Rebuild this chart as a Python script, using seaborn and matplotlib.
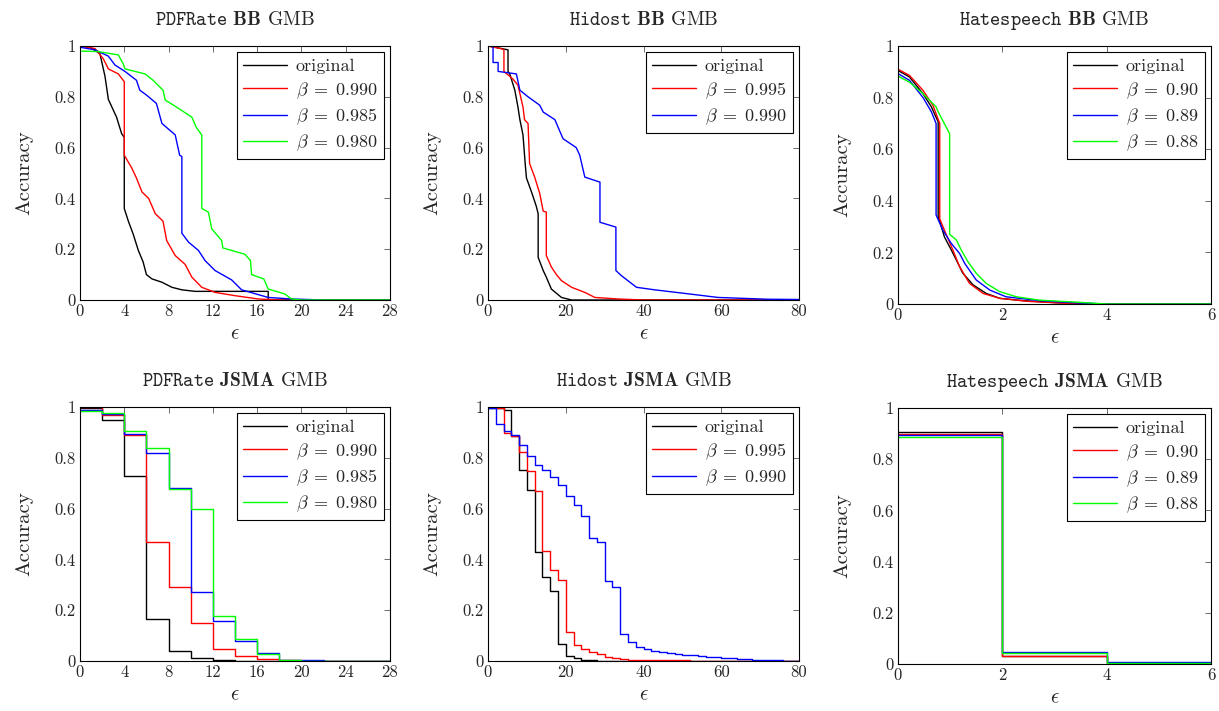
import matplotlib
matplotlib.use("Agg")
import matplotlib.pyplot as plt
import seaborn as sns

# ---- PDFRate BB ----
pdf_bb_orig_x = [0, 0.9, 1.8, 2.26, 2.56, 3.3, 3.76, 4.0, 4.0, 4.37, 4.8, 5.27, 5.7, 6.0, 6.5, 7.4, 8.3, 9.2, 10.4, 17.0, 17.0, 28]
pdf_bb_orig_y = [1.0, 0.995, 0.97, 0.88, 0.79, 0.72, 0.655, 0.64, 0.36, 0.31, 0.26, 0.195, 0.15, 0.10, 0.083, 0.07, 0.05, 0.04, 0.034, 0.034, 0.0, 0.0]
pdf_bb_990_x = [0, 1.35, 2.1, 2.56, 3.46, 3.9, 4.0, 4.0, 4.67, 5.1, 5.6, 6.2, 6.8, 7.5, 7.83, 8.6, 9.5, 10.1, 11.0, 12.2, 14.0, 16.1, 18.0, 28]
pdf_bb_990_y = [1.0, 0.99, 0.95, 0.91, 0.89, 0.865, 0.86, 0.57, 0.52, 0.48, 0.425, 0.40, 0.34, 0.31, 0.234, 0.175, 0.14, 0.09, 0.05, 0.03, 0.017, 0.004, 0.0, 0.0]
pdf_bb_985_x = [0, 1.35, 2.56, 3.16, 4.06, 5.1, 5.4, 6.0, 6.9, 7.4, 8.6, 9.0, 9.2, 9.2, 9.8, 10.7, 11.3, 12.2, 13.7, 14.6, 17.0, 19.1, 22.0, 28]
pdf_bb_985_y = [0.995, 0.985, 0.96, 0.925, 0.90, 0.865, 0.826, 0.807, 0.774, 0.695, 0.65, 0.57, 0.565, 0.263, 0.228, 0.195, 0.155, 0.116, 0.079, 0.04, 0.01, 0.004, 0.0, 0.0]
pdf_bb_980_x = [0, 1.65, 3.46, 3.9, 4.06, 5.87, 6.6, 7.5, 7.7, 8.7, 10.1, 10.5, 11.0, 11.0, 11.6, 11.9, 12.8, 12.9, 14.9, 15.4, 15.5, 16.6, 17.0, 18.5, 19.1, 20.0, 28]
pdf_bb_980_y = [0.98, 0.978, 0.965, 0.93, 0.91, 0.89, 0.865, 0.826, 0.787, 0.76, 0.72, 0.68, 0.649, 0.36, 0.346, 0.28, 0.234, 0.205, 0.18, 0.155, 0.10, 0.083, 0.043, 0.024, 0.004, 0.0, 0.0]

# ---- Hidost BB ----
hid_bb_orig_x = [0, 5.15, 5.15, 5.6, 6.9, 7.7, 8.2, 9.0, 9.6, 9.9, 11.2, 12.4, 12.9, 12.9, 14.2, 15.0, 16.3, 18.9, 21.5, 80]
hid_bb_orig_y = [1.0, 0.985, 0.90, 0.89, 0.826, 0.76, 0.71, 0.65, 0.53, 0.48, 0.425, 0.37, 0.34, 0.168, 0.116, 0.09, 0.043, 0.01, 0.0, 0.0]
hid_bb_995_x = [0, 3.3, 4.1, 4.1, 6.4, 7.7, 9.0, 9.4, 10.3, 10.7, 12.0, 13.3, 14.2, 15.0, 15.0, 16.3, 17.6, 18.9, 21.5, 24.9, 27.5, 33.5, 40, 80]
hid_bb_995_y = [1.0, 0.99, 0.985, 0.90, 0.87, 0.846, 0.76, 0.71, 0.695, 0.537, 0.484, 0.42, 0.35, 0.346, 0.175, 0.13, 0.10, 0.076, 0.05, 0.03, 0.01, 0.004, 0.0, 0.0]
hid_bb_990_x = [0, 1.3, 1.3, 2.6, 2.6, 7.3, 8.2, 10.3, 13.3, 14.2, 17.2, 19.3, 22.7, 23.6, 24.9, 28.8, 28.8, 32.9, 32.9, 34.3, 38.2, 42.9, 50.6, 59.2, 72, 80]
hid_bb_990_y = [1.0, 1.0, 0.935, 0.935, 0.9, 0.89, 0.826, 0.80, 0.767, 0.74, 0.71, 0.635, 0.60, 0.57, 0.484, 0.464, 0.306, 0.287, 0.116, 0.096, 0.05, 0.04, 0.026, 0.01, 0.003, 0.002]

# ---- Hatespeech BB ----
hate_bb_orig_x = [0, 0.22, 0.48, 0.64, 0.77, 0.77, 0.8, 0.89, 1.02, 1.12, 1.24, 1.44, 1.69, 1.95, 2.4, 3.03, 4.0, 6.0]
hate_bb_orig_y = [0.905, 0.88, 0.815, 0.764, 0.706, 0.34, 0.32, 0.26, 0.21, 0.17, 0.12, 0.074, 0.041, 0.022, 0.013, 0.005, 0.0, 0.0]
hate_bb_90_x = [0, 0.22, 0.48, 0.67, 0.8, 0.8, 0.89, 1.05, 1.18, 1.37, 1.63, 1.95, 2.5, 3.5, 6.0]
hate_bb_90_y = [0.91, 0.886, 0.828, 0.77, 0.70, 0.33, 0.286, 0.21, 0.145, 0.08, 0.041, 0.022, 0.01, 0.0, 0.0]
hate_bb_89_x = [0, 0.22, 0.48, 0.64, 0.73, 0.73, 0.86, 1.02, 1.18, 1.28, 1.5, 1.76, 2.07, 2.71, 3.35, 4.0, 6.0]
hate_bb_89_y = [0.893, 0.867, 0.80, 0.745, 0.70, 0.345, 0.286, 0.235, 0.196, 0.157, 0.093, 0.054, 0.028, 0.013, 0.005, 0.0, 0.0]
hate_bb_88_x = [0, 0.22, 0.48, 0.73, 0.77, 0.99, 0.99, 1.12, 1.21, 1.34, 1.5, 1.69, 1.95, 2.27, 2.71, 3.35, 4.0, 6.0]
hate_bb_88_y = [0.883, 0.86, 0.815, 0.764, 0.745, 0.66, 0.27, 0.248, 0.21, 0.164, 0.119, 0.08, 0.048, 0.028, 0.015, 0.008, 0.0, 0.0]

# ---- PDFRate JSMA ----
pdf_js_eps = [0, 2, 4, 6, 8, 10, 12, 14, 16, 18, 20, 22, 24, 26, 28]
pdf_js_orig = [0.995, 0.95, 0.73, 0.165, 0.04, 0.01, 0.003, 0, 0, 0, 0, 0, 0, 0, 0]
pdf_js_990 = [1.0, 0.967, 0.89, 0.47, 0.293, 0.148, 0.046, 0.02, 0.008, 0.002, 0, 0, 0, 0, 0]
pdf_js_985 = [0.99, 0.972, 0.893, 0.818, 0.683, 0.27, 0.159, 0.079, 0.03, 0.004, 0.002, 0, 0, 0, 0]
pdf_js_980 = [0.985, 0.975, 0.904, 0.838, 0.678, 0.60, 0.179, 0.087, 0.026, 0.002, 0, 0, 0, 0, 0]

# ---- Hidost JSMA ----
hid_js_eps = [0, 2, 4, 6, 8, 10, 12, 14, 16, 18, 20, 22, 24, 26, 28, 30, 32, 34, 36, 38, 40,
              42, 44, 46, 48, 50, 52, 54, 56, 58, 60, 62, 64, 66, 68, 70, 72, 74, 76, 78, 80]
hid_js_orig = [0.996, 0.996, 0.987, 0.884, 0.753, 0.674, 0.43, 0.332, 0.276, 0.066, 0.021, 0.01, 0.005, 0.002,
               0, 0, 0, 0, 0, 0, 0, 0, 0, 0, 0, 0, 0, 0, 0, 0, 0, 0, 0, 0, 0, 0, 0, 0, 0, 0, 0]
hid_js_995 = [1.0, 0.995, 0.897, 0.884, 0.822, 0.749, 0.67, 0.435, 0.359, 0.319, 0.113, 0.063, 0.047, 0.034,
              0.026, 0.017, 0.01, 0.007, 0.005, 0.004, 0.003, 0.003, 0.002, 0.002, 0.002, 0.002, 0.001, 0.001,
              0, 0, 0, 0, 0, 0, 0, 0, 0, 0, 0, 0, 0]
hid_js_990 = [0.996, 0.934, 0.904, 0.888, 0.849, 0.808, 0.773, 0.753, 0.723, 0.694, 0.65, 0.615, 0.572, 0.484,
              0.47, 0.313, 0.293, 0.105, 0.074, 0.057, 0.047, 0.041, 0.036, 0.032, 0.028, 0.025, 0.022, 0.019,
              0.016, 0.014, 0.012, 0.01, 0.008, 0.006, 0.005, 0.004, 0.003, 0.002, 0.001, 0.001, 0.001]

# ---- Hatespeech JSMA ----
hate_js_eps = [0, 2, 4, 6]
hate_js_orig = [0.905, 0.03, 0.004, 0.004]
hate_js_90 = [0.90, 0.031, 0.004, 0.004]
hate_js_89 = [0.895, 0.047, 0.006, 0.006]
hate_js_88 = [0.885, 0.043, 0.003, 0.003]

sns.set_theme(style="white")
plt.rcParams["font.family"] = ["cmr10", "DejaVu Serif"]
plt.rcParams["mathtext.fontset"] = "cm"
plt.rcParams["axes.formatter.use_mathtext"] = True
plt.rcParams["xtick.direction"] = "in"
plt.rcParams["ytick.direction"] = "in"
plt.rcParams["xtick.top"] = True
plt.rcParams["ytick.right"] = True

fig = plt.figure(figsize=(12.19, 7.11), dpi=100)
W, H = 1219, 711


def make_ax(l, r, t, b):
    return fig.add_axes([l / W, (H - b) / H, (r - l) / W, (b - t) / H])


def draw(ax, xs, ys, labels, colors, steps=True):
    for x, y, lab, c in zip(xs, ys, labels, colors):
        kw = dict(drawstyle="steps-post") if steps else {}
        sns.lineplot(x=x, y=y, ax=ax, color=c, lw=1.0, label=lab,
                     estimator=None, sort=False, **kw)


def style(ax, title, xmax, xticks):
    ax.set_xlim(0, xmax)
    ax.set_ylim(0, 1)
    ax.set_xticks(xticks)
    ax.set_xticklabels([str(v) for v in xticks])
    ax.set_yticks([0, 0.2, 0.4, 0.6, 0.8, 1])
    ax.set_yticklabels(["0", "0.2", "0.4", "0.6", "0.8", "1"])
    ax.tick_params(labelsize=12, length=4, width=0.6, color="#555555", pad=3)
    for s in ax.spines.values():
        s.set_color("black")
        s.set_linewidth(0.8)
    ax.set_title(title, fontsize=14, pad=15)
    ax.set_xlabel(r"$\epsilon$", fontsize=15, labelpad=4)
    ax.set_ylabel("Accuracy", fontsize=15, labelpad=15)
    ax.legend(loc="upper right", fontsize=13, fancybox=False, edgecolor="black",
              framealpha=1, borderpad=0.35, labelspacing=0.32, handlelength=2.4,
              handletextpad=0.5, borderaxespad=0.35).get_frame().set_linewidth(0.8)


c4 = ["black", "#ff0000", "#0000ff", "#00ff00"]
lab_pdf = ["original", r"$\beta\;=\;0.990$", r"$\beta\;=\;0.985$", r"$\beta\;=\;0.980$"]
lab_hid = ["original", r"$\beta\;=\;0.995$", r"$\beta\;=\;0.990$"]
lab_hate = ["original", r"$\beta\;=\;0.90$", r"$\beta\;=\;0.89$", r"$\beta\;=\;0.88$"]

ax1 = make_ax(80, 390, 46, 300)
draw(ax1, [pdf_bb_orig_x, pdf_bb_990_x, pdf_bb_985_x, pdf_bb_980_x],
     [pdf_bb_orig_y, pdf_bb_990_y, pdf_bb_985_y, pdf_bb_980_y], lab_pdf, c4, steps=False)
style(ax1, r"$\mathtt{PDFRate}$ $\mathbf{BB}$ GMB", 28, [0, 4, 8, 12, 16, 20, 24, 28])

ax2 = make_ax(488, 799, 46, 300)
draw(ax2, [hid_bb_orig_x, hid_bb_995_x, hid_bb_990_x],
     [hid_bb_orig_y, hid_bb_995_y, hid_bb_990_y], lab_hid, c4[:3], steps=False)
style(ax2, r"$\mathtt{Hidost}$ $\mathbf{BB}$ GMB", 80, [0, 20, 40, 60, 80])

ax3 = make_ax(898, 1211, 46, 304)
draw(ax3, [hate_bb_orig_x, hate_bb_90_x, hate_bb_89_x, hate_bb_88_x],
     [hate_bb_orig_y, hate_bb_90_y, hate_bb_89_y, hate_bb_88_y], lab_hate, c4, steps=False)
style(ax3, r"$\mathtt{Hatespeech}$ $\mathbf{BB}$ GMB", 6, [0, 2, 4, 6])

ax4 = make_ax(80, 390, 407, 661)
draw(ax4, [pdf_js_eps] * 4, [pdf_js_orig, pdf_js_990, pdf_js_985, pdf_js_980], lab_pdf, c4)
style(ax4, r"$\mathtt{PDFRate}$ $\mathbf{JSMA}$ GMB", 28, [0, 4, 8, 12, 16, 20, 24, 28])

ax5 = make_ax(488, 799, 407, 661)
draw(ax5, [hid_js_eps] * 3, [hid_js_orig, hid_js_995, hid_js_990], lab_hid, c4[:3])
style(ax5, r"$\mathtt{Hidost}$ $\mathbf{JSMA}$ GMB", 80, [0, 20, 40, 60, 80])

ax6 = make_ax(898, 1211, 408, 664)
draw(ax6, [hate_js_eps] * 4, [hate_js_orig, hate_js_90, hate_js_89, hate_js_88], lab_hate, c4)
style(ax6, r"$\mathtt{Hatespeech}$ $\mathbf{JSMA}$ GMB", 6, [0, 2, 4, 6])

fig.savefig("out.png", dpi=100)
